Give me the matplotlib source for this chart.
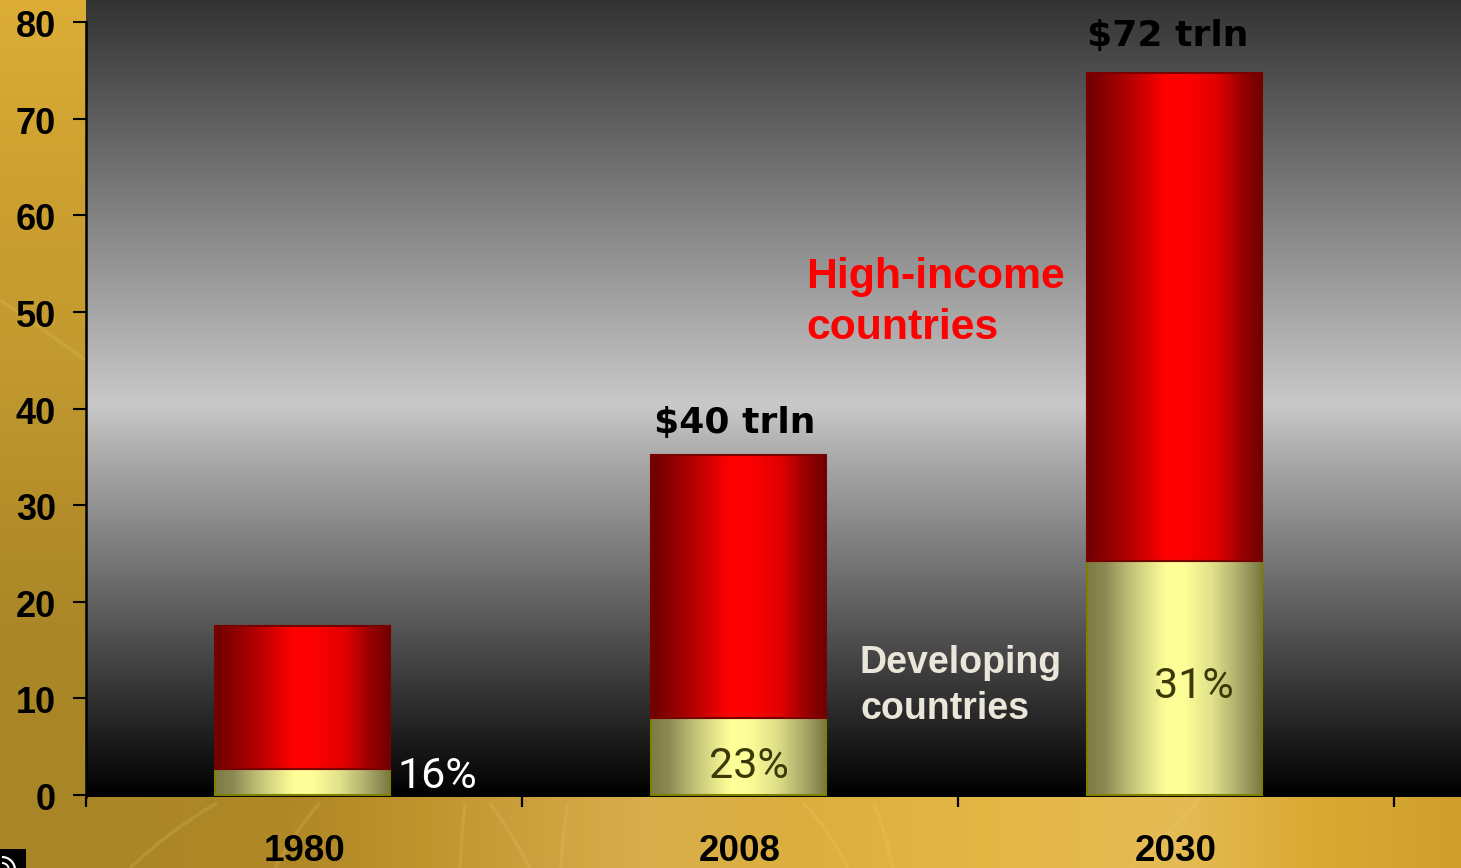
import numpy as np
import matplotlib
matplotlib.use("Agg")
import matplotlib.pyplot as plt
from matplotlib.colors import LinearSegmentedColormap
from matplotlib.patches import Rectangle, Arc
from matplotlib.path import Path
from matplotlib.patches import PathPatch
from matplotlib.transforms import ScaledTranslation

categories = ["1980", "2008", "2030"]
developing = [2.7, 8.0, 24.2]
high_income = [14.8, 27.2, 50.5]
totals_labels = {"2008": "$40 trln", "2030": "$72 trln"}
shares = ["16%", "23%", "31%"]
y_ticks = [0, 10, 20, 30, 40, 50, 60, 70, 80]

W, H = 1461, 868
fig = plt.figure(figsize=(W / 100, H / 100), dpi=100)


def rel(x, y):
    return x / W, 1 - y / H


# gold backdrop
bg = fig.add_axes([0, 0, 1, 1], zorder=0)
bg.set_xlim(0, W)
bg.set_ylim(H, 0)
bg.axis("off")
left_stops = [(0, "#dcae38"), (0.25, "#cb9f2f"), (0.45, "#c39a30"), (0.62, "#b68f2b"), (0.78, "#ab8727"), (1, "#a88526")]
bot_stops = [(0, "#a88526"), (0.2, "#b08826"), (0.29, "#c0932d"), (0.44, "#d8ae4c"), (0.55, "#dcae3e"),
             (0.68, "#e4b745"), (0.81, "#e5bb55"), (0.89, "#dbab35"), (1, "#cf9f2c")]
left_cm = LinearSegmentedColormap.from_list("l", left_stops)
bot_cm = LinearSegmentedColormap.from_list("b", bot_stops)
bg.imshow(np.linspace(0, 1, 256)[:, None], cmap=left_cm, extent=(0, 90, 800, 0), aspect="auto", vmin=0, vmax=1)
bg.imshow(np.linspace(0, 1, 512)[None, :], cmap=bot_cm, extent=(0, W, H, 796), aspect="auto", vmin=0, vmax=1)
bg.set_xlim(0, W)
bg.set_ylim(H, 0)
for verts in [
    [(130, 868), (170, 830), (217, 803)],
    [(275, 868), (295, 830), (320, 803)],
    [(460, 868), (462, 830), (465, 803)],
    [(530, 868), (510, 830), (490, 803)],
    [(561, 868), (563, 830), (568, 803)],
    [(893, 868), (885, 830), (874, 803)],
    [(848, 868), (830, 830), (803, 803)],
    [(1130, 868), (1175, 830), (1200, 798)],
    [(0, 300), (45, 330), (85, 360)],
]:
    bg.add_patch(PathPatch(Path(verts, [Path.MOVETO, Path.CURVE3, Path.CURVE3]),
                           fc="none", ec="#f2d58a", lw=2.5, alpha=0.16))
bg.add_patch(Rectangle((0, 849), 26, 19, fc="black", ec="none"))
bg.add_patch(Arc((2, 870), 26, 26, theta1=270, theta2=360, ec="white", lw=1.6))
bg.add_patch(Arc((2, 870), 14, 14, theta1=270, theta2=360, ec="white", lw=1.4))

# main axes
x_left, x_right, y_top, y_bot = 86.0, 1461.0, 0.0, 796.5
ax = fig.add_axes([x_left / W, 1 - y_bot / H, (x_right - x_left) / W, (y_bot - y_top) / H], zorder=1)
ax.patch.set_alpha(0)
px_per_unit = 773 / 80
px_per_cat = 436.0
ylim = (-(y_bot - 795) / px_per_unit, (795 - y_top) / px_per_unit)
xlim = (-0.5, -0.5 + (x_right - x_left) / px_per_cat)

grad = LinearSegmentedColormap.from_list(
    "g", [(0, "#333333"), (405 / 797, "#c9c9c9"), (0.56, "#b0b0b0"), (1, "#000000")])
ax.imshow(np.linspace(0, 1, 512)[:, None], cmap=grad, extent=(0, 1, 0, 1), origin="upper",
          transform=ax.transAxes, aspect="auto", zorder=0, vmin=0, vmax=1)

x = np.arange(len(categories))
bar_x = x - 1.5 / px_per_cat
red_cm = LinearSegmentedColormap.from_list(
    "r", [(0, "#6e0000"), (0.12, "#900000"), (0.25, "#b80000"), (0.45, "#ff0000"), (0.55, "#ff0000"),
          (0.75, "#e00000"), (0.88, "#9c0000"), (1, "#6e0000")])
yel_cm = LinearSegmentedColormap.from_list(
    "y", [(0, "#7c7a45"), (0.1, "#8c8a52"), (0.25, "#c2c278"), (0.45, "#ffff99"), (0.55, "#ffff99"),
          (0.72, "#e0e08a"), (0.88, "#a8a868"), (1, "#7a7845")])
bar_width = 175 / px_per_cat
bars_dev = ax.bar(bar_x, developing, bar_width, fc="none", ec="#808000", lw=1.5, zorder=3)
bars_high = ax.bar(bar_x, high_income, bar_width, bottom=developing, fc="none", ec="#7a0000", lw=1.5, zorder=3)
ramp = np.linspace(0, 1, 256)[None, :]
for bars, cm in ((bars_dev, yel_cm), (bars_high, red_cm)):
    for b in bars:
        ax.imshow(ramp, cmap=cm, aspect="auto", zorder=2, vmin=0, vmax=1,
                  extent=(b.get_x(), b.get_x() + b.get_width(), b.get_y(), b.get_y() + b.get_height()))
ax.set_xlim(*xlim)
ax.set_ylim(*ylim)

# axes furniture
for s in ("top", "right", "bottom"):
    ax.spines[s].set_visible(False)
ax.spines["left"].set_linewidth(1.8)
ax.spines["left"].set_bounds(ylim[0], 80)
ax.set_yticks(y_ticks)
ax.tick_params(axis="y", length=9.5, width=1.5, pad=12, labelsize=26)
ax.set_xticks(np.arange(-0.5, 3.0, 1.0))
ax.set_xticklabels([])
ax.tick_params(axis="x", which="major", length=7.5, width=1.6)
ax.set_xticks(x, minor=True)
ax.set_xticklabels(categories, minor=True)
ax.tick_params(axis="x", which="minor", length=0, pad=27, labelsize=26.5)
for lab in ax.get_yticklabels() + ax.get_xticklabels(minor=True):
    lab.set_family("Liberation Sans")
    lab.set_fontweight("bold")
    lab.set_color("black")
shift = ScaledTranslation(0, -1.5 / 100, fig.dpi_scale_trans)
for lab in ax.get_yticklabels():
    lab.set_transform(lab.get_transform() + shift)

# annotations


def txt(px, py, s, **kw):
    fx, fy = rel(px, py)
    fig.text(fx, fy, s, zorder=5, **kw)


dj = dict(family="DejaVu Sans", fontsize=26, color="black", ha="left", va="center", fontweight="bold")
txt(654, 423, totals_labels["2008"], **dj)
txt(1087, 36, totals_labels["2030"], **dj)

pct = dict(family="Roboto", fontsize=31, ha="left", va="center")
txt(397, 776, shares[0], color="white", **pct)
txt(709, 767, shares[1], color="#3a3a08", **pct)
txt(1154, 686, shares[2], color="#3a3a08", **pct)

hi = dict(family="Liberation Sans", fontweight="bold", fontsize=30.8, color="#ff0000", ha="left", va="center")
txt(806.5, 277, "High-income", **hi)
txt(806.5, 328, "countries", **hi)
dv = dict(family="Liberation Sans", fontweight="bold", fontsize=27, color="#ebe6da", ha="left", va="center")
txt(860, 663, "Developing", **dv)
txt(860, 709, "countries", **dv)

fig.savefig("out.png", dpi=100)
